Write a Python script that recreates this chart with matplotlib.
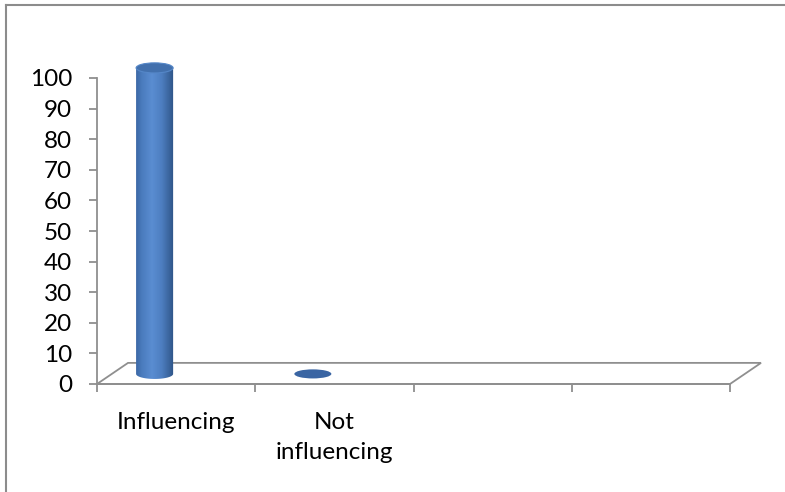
"""Column chart with 3D-style cylinders: share of respondents influencing."""
import matplotlib
import numpy as np

matplotlib.use("Agg")
import matplotlib.pyplot as plt  # noqa: E402
from matplotlib.colors import LinearSegmentedColormap  # noqa: E402
from matplotlib.lines import Line2D  # noqa: E402
from matplotlib.patches import Ellipse, PathPatch, Polygon  # noqa: E402
from matplotlib.path import Path  # noqa: E402

# Datos
categories = ["Influencing", "Not\ninfluencing", "", ""]
values = [100, 0]
y_ticks = list(range(0, 101, 10))

# Estilo
W, H = 785, 492
AX_LEFT, AX_RIGHT, AX_TOP, AX_BOTTOM = 97, 730, 78, 384   # px
GRID = "#8f8f8f"
FLOOR_DX, FLOOR_DY = 0.196, 6.9      # profundidad del suelo (unidades de datos)
BAR_DX, BAR_DY = 0.364, 3.3          # desplazamiento del cilindro
BAR_HALF_W = 0.117
ELL_H = 3.3
FONT_SIZE = 17.5

plt.rcParams["font.family"] = ["Lato", "DejaVu Sans"]

fig = plt.figure(figsize=(W / 100, H / 100), dpi=100)
ax = fig.add_axes([AX_LEFT / W, (H - AX_BOTTOM) / H,
                   (AX_RIGHT - AX_LEFT) / W, (AX_BOTTOM - AX_TOP) / H])
n = len(categories)
ax.set_xlim(0, n)
ax.set_ylim(0, 100)

for side in ("top", "right"):
    ax.spines[side].set_visible(False)
for side in ("left", "bottom"):
    ax.spines[side].set_color(GRID)
    ax.spines[side].set_linewidth(1.3)

ax.set_yticks(y_ticks)
ax.set_yticklabels([str(t) for t in y_ticks])
ax.set_xticks(range(n + 1))
ax.set_xticklabels([])
ax.set_xticks(np.arange(n) + 0.5, minor=True)
ax.set_xticklabels(categories, minor=True)
ax.tick_params(axis="both", which="major", direction="out", length=6,
               width=1.3, color=GRID, labelsize=FONT_SIZE, pad=12,
               labelcolor="black")
ax.tick_params(axis="x", which="minor", length=0, labelsize=FONT_SIZE, pad=20)
for lbl in ax.get_xticklabels(minor=True):
    lbl.set_linespacing(1.55)
    lbl.set_verticalalignment("top")

# Suelo en perspectiva
floor = Polygon([(0, 0), (n, 0), (n + FLOOR_DX, FLOOR_DY), (FLOOR_DX, FLOOR_DY)],
                closed=True, facecolor="white", edgecolor=GRID, linewidth=1.3,
                clip_on=False, zorder=1)
ax.add_patch(floor)

cmap = LinearSegmentedColormap.from_list(
    "cyl", [(0.0, "#3c68a6"), (0.15, "#4a7bbd"), (0.42, "#5a8dd2"),
            (0.68, "#4d7ec0"), (0.88, "#3a649c"), (1.0, "#2d5386")])
grad = np.linspace(0, 1, 256).reshape(1, -1)

for i, v in enumerate(values):
    cx = i + BAR_DX
    y0 = BAR_DY
    a, b = BAR_HALF_W, ELL_H / 2
    if v > 0:
        t = np.linspace(np.pi, 2 * np.pi, 60)
        arc = np.column_stack([cx + a * np.cos(t), y0 + b * np.sin(t)])
        verts = np.vstack([[cx - a, y0 + v], arc, [cx + a, y0 + v], [cx - a, y0 + v]])
        codes = [Path.MOVETO] + [Path.LINETO] * (len(verts) - 2) + [Path.CLOSEPOLY]
        body = PathPatch(Path(verts, codes), facecolor="none", edgecolor="none",
                         clip_on=False)
        ax.add_patch(body)
        im = ax.imshow(grad, cmap=cmap, aspect="auto", zorder=3,
                       extent=[cx - a, cx + a, y0 - b, y0 + v],
                       interpolation="bilinear")
        # el cilindro sobresale del área de ejes: recortar solo con su silueta
        im.set_clip_box(fig.bbox)
        im.set_clip_path(body)
        ax.add_patch(Ellipse((cx, y0 + v), 2 * a, 2 * b,
                             facecolor="#4270ad", edgecolor="#5587c8",
                             linewidth=0.8, zorder=4, clip_on=False))
    else:
        ax.add_patch(Ellipse((cx, y0), 2 * a, 2 * b * 0.9,
                             facecolor="#3a65a3", edgecolor="none", zorder=4,
                             clip_on=False))

ax.set_xlim(0, n)
ax.set_ylim(0, 100)

# Marco exterior
fig.add_artist(Line2D([6 / W, 6 / W], [0, 1 - 5 / H], color="#8c8c8c",
                      linewidth=1.5, transform=fig.transFigure))
fig.add_artist(Line2D([6 / W, 1], [1 - 5 / H, 1 - 5 / H], color="#8c8c8c",
                      linewidth=1.5, transform=fig.transFigure))

fig.savefig("out.png", dpi=100)
